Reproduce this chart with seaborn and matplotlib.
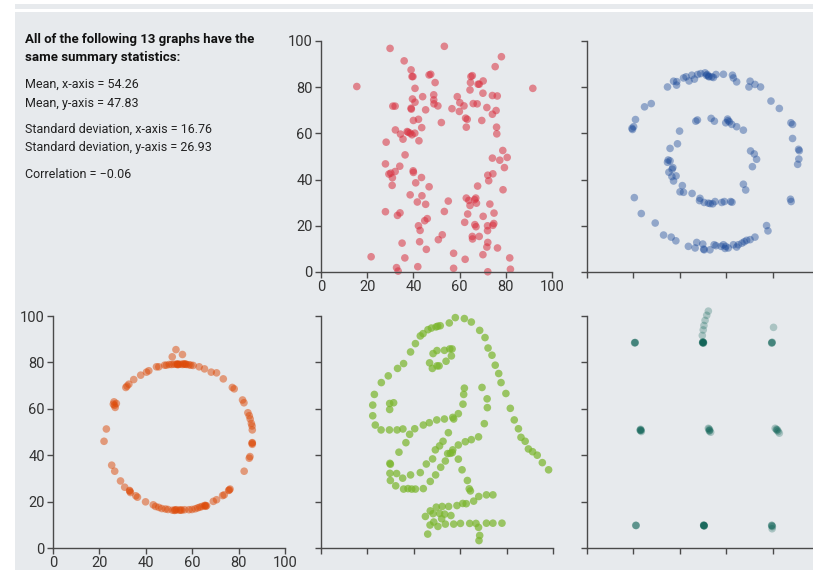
import numpy as np
import pandas as pd
import matplotlib.pyplot as plt
import seaborn as sns
from matplotlib.patches import Rectangle

# summary text
header = "All of the following 13 graphs have the\nsame summary statistics:"
stat_lines = ["Mean, x-axis = 54.26\nMean, y-axis = 47.83",
              "Standard deviation, x-axis = 16.76\nStandard deviation, y-axis = 26.93",
              "Correlation = \u22120.06"]

ticks = [0, 20, 40, 60, 80, 100]

# "away" - red, top middle
away_x = [15.5, 29.9, 53.4, 78.1, 91.7, 36.0, 39.0, 39.4, 39.8, 46.8, 47.5, 49.4, 40.7, 39.6, 40.7,
          44.0, 48.8, 48.8, 48.9, 50.6, 45.3, 39.0, 39.1, 31.1, 32.1, 40.0, 42.2, 43.6, 52.1, 32.2,
          34.4, 35.5, 37.3, 37.7, 38.6, 39.4, 40.6, 42.4, 28.2, 36.4, 27.9, 29.4, 30.2, 30.9, 32.1,
          34.1, 30.8, 39.9, 40.0, 43.5, 41.0, 46.8, 38.6, 43.7, 41.7, 45.3, 55.1, 53.4, 27.9, 34.2,
          33.1, 42.2, 42.9, 46.0, 44.9, 52.5, 50.8, 42.7, 35.1, 45.6, 36.3, 21.7, 32.7, 33.4, 41.9,
          57.4, 57.4, 62.4, 70.1, 72.2, 82.0, 81.7, 76.4, 71.8, 72.2, 68.5, 65.5, 65.6, 67.1, 66.6,
          72.1, 72.1, 74.4, 74.8, 62.2, 63.5, 70.2, 74.9, 73.1, 62.9, 64.0, 64.5, 66.5, 67.0, 67.3,
          67.8, 78.8, 72.2, 72.6, 74.4, 79.4, 77.4, 80.6, 74.2, 78.7, 76.1, 76.0, 75.8, 74.2, 71.8,
          74.2, 76.3, 69.6, 70.1, 70.2, 68.0, 68.5, 64.9, 65.5, 64.7, 64.5, 75.4, 59.0, 60.1, 61.9,
          59.9, 56.7, 65.9, 67.6, 62.6, 63.3, 62.9]
away_y = [80.3, 96.8, 97.7, 93.2, 79.5, 91.4, 87.5, 84.6, 84.6, 85.3, 85.6, 82.0, 79.5, 74.9, 73.5,
          75.9, 76.7, 74.5, 72.8, 71.9, 70.2, 70.9, 70.5, 71.8, 71.8, 65.6, 66.1, 62.5, 64.7, 61.5,
          59.7, 57.5, 60.8, 60.5, 60.1, 59.4, 60.1, 56.8, 56.2, 50.7, 46.8, 42.4, 42.8, 40.8, 43.5,
          45.8, 37.5, 43.8, 43.1, 40.9, 38.6, 36.9, 33.4, 33.0, 30.3, 29.3, 30.7, 26.2, 26.1, 25.6,
          24.5, 20.0, 18.0, 23.1, 22.2, 16.1, 14.0, 13.1, 12.5, 9.8, 6.1, 6.6, 1.9, 0.4, 2.3,
          8.1, 1.6, 5.5, 7.5, 0.1, 1.2, 6.1, 10.4, 10.8, 12.8, 15.4, 15.4, 14.3, 19.6, 20.5,
          17.9, 20.0, 20.2, 21.0, 21.5, 25.1, 24.1, 25.5, 29.4, 32.0, 31.0, 28.8, 31.3, 32.0, 29.8,
          37.2, 35.6, 41.9, 39.5, 42.5, 45.2, 48.4, 49.6, 49.3, 52.6, 59.8, 62.7, 69.9, 68.3, 71.2,
          76.4, 76.2, 65.6, 77.4, 82.7, 81.3, 81.3, 84.6, 85.0, 82.0, 78.8, 88.9, 75.9, 73.3, 71.9,
          69.5, 70.7, 72.9, 72.8, 66.6, 66.1, 62.7]

# "bullseye" - blue, top right
bull_x = [34.7, 37.3, 38.6, 38.7, 41.6, 42.7, 44.0, 45.2, 46.3, 47.7, 49.0, 50.9, 51.8, 52.6, 53.8,
          54.5, 55.6, 58.8, 62.7, 63.1, 64.5, 70.3, 69.8, 72.4, 74.8, 79.3, 82.9, 87.9, 88.6, 88.6,
          91.2, 91.5, 91.3, 90.8, 87.7, 88.0, 77.4, 78.0, 72.4, 70.3, 68.8, 67.8, 66.8, 65.2, 64.5,
          63.1, 60.9, 59.8, 58.8, 57.8, 55.6, 54.8, 53.0, 50.5, 49.9, 47.3, 46.6, 43.7, 38.3, 36.3,
          33.0, 29.4, 23.4, 20.4, 19.6, 20.1, 19.4, 20.9, 24.8, 27.7,
          46.9, 47.6, 53.5, 54.9, 59.8, 60.8, 61.4, 62.4, 64.5, 67.4, 39.9, 39.0, 35.8, 35.0, 34.7,
          35.8, 37.0, 36.7, 35.3, 36.6, 38.4, 37.3, 41.1, 40.1, 41.6, 45.3, 48.7, 48.5, 50.5, 52.3,
          54.2, 55.2, 58.1, 59.2, 61.9, 62.5, 67.4, 68.4, 71.3, 73.1, 72.1, 70.5,
          52.4, 51.5, 60.6, 50.3, 59.5, 53.1]
bull_y = [80.1, 82.6, 80.9, 82.4, 84.0, 84.5, 82.7, 85.2, 83.5, 85.5, 85.9, 86.2, 85.5, 84.5, 84.5,
          84.2, 85.5, 85.6, 85.2, 84.0, 82.3, 82.6, 80.1, 81.2, 80.1, 74.0, 70.8, 64.6, 63.9, 57.8,
          53.1, 52.5, 48.9, 46.6, 31.5, 30.5, 20.1, 17.8, 15.1, 14.0, 13.7, 13.1, 12.5, 11.8, 10.8,
          11.8, 10.4, 11.1, 11.8, 11.1, 11.4, 11.8, 9.6, 9.6, 12.1, 12.8, 10.4, 11.1, 13.5, 15.1,
          16.0, 21.2, 25.3, 32.2, 61.7, 62.9, 62.2, 66.0, 71.5, 72.9,
          65.3, 65.8, 66.5, 65.3, 64.6, 65.5, 65.0, 63.9, 62.9, 61.4, 61.0, 55.5, 53.5, 48.5, 47.5,
          48.1, 45.2, 44.5, 43.2, 41.3, 41.6, 39.4, 37.4, 34.7, 34.5, 34.0, 31.9, 30.9, 30.1, 29.8,
          29.5, 30.5, 30.1, 30.5, 30.5, 30.2, 38.0, 35.5, 45.6, 48.8, 51.1, 52.4,
          84.8, 85.1, 66.2, 9.9, 10.2, 29.6]

# "circle" - orange, bottom left
circ_x = [53.0, 51.4, 55.8, 48.1, 48.9, 50.1, 51.1, 52.1, 53.2, 54.0, 54.8, 55.8, 56.8, 57.6, 58.6,
          59.4, 60.4, 44.6, 45.6, 41.3, 40.3, 37.8, 34.8, 32.7, 31.9, 31.4, 63.0, 65.3, 68.2, 70.5,
          73.4, 77.3, 78.1, 81.7, 82.3, 84.0, 84.6, 85.0, 85.5, 85.8, 85.9, 85.9, 85.9, 84.9, 84.6,
          82.4, 26.3, 26.5, 26.8, 27.3, 23.0, 22.0, 25.3, 26.6, 29.1, 30.9, 33.1, 33.4, 35.7, 36.4,
          39.9, 43.2, 44.2, 45.6, 46.9, 48.5, 49.6, 51.5, 52.4, 53.2, 54.4, 55.5, 56.7, 58.6, 59.9,
          61.3, 62.4, 63.3, 64.2, 65.3, 66.2, 69.1, 70.5, 73.1, 73.8, 75.7, 76.3,
          53.6, 56.2, 52.7, 65.8, 26.0, 33.0, 76.0, 85.8, 55.0, 65.6, 53.8, 57.1]
circ_y = [85.5, 82.4, 83.4, 78.8, 78.8, 79.1, 79.1, 79.2, 79.2, 79.2, 79.2, 79.1, 79.2, 79.1, 79.0,
          78.8, 78.7, 78.1, 78.1, 76.4, 75.8, 74.5, 72.6, 70.6, 69.8, 69.2, 78.1, 77.2, 75.8, 75.5,
          72.9, 69.2, 68.6, 63.8, 62.6, 58.3, 57.0, 55.6, 53.7, 52.6, 50.9, 45.4, 44.7, 39.4, 38.7,
          33.1, 63.0, 61.5, 60.6, 62.3, 51.3, 46.0, 35.7, 33.1, 28.9, 26.2, 24.5, 23.9, 22.5, 21.9,
          19.9, 18.6, 17.9, 17.5, 17.0, 16.8, 16.6, 16.3, 16.2, 16.5, 16.3, 16.3, 16.5, 16.5, 16.6,
          16.9, 17.3, 17.6, 17.9, 18.2, 18.2, 20.1, 20.8, 22.6, 22.9, 24.8, 25.4,
          79.3, 79.4, 16.4, 18.0, 62.0, 24.8, 25.0, 45.2, 16.4, 18.4, 79.0, 79.3]

# "dino" - green, bottom middle
dino_x = [57.9, 61.8, 64.8, 68.4, 70.7, 72.0, 73.7, 75.1, 76.6, 77.6, 79.7, 81.6, 83.3, 85.1, 86.2,
          88.0, 89.4, 91.2, 93.2, 95.4, 98.1, 55.3, 51.4, 50.3, 49.6, 47.6, 46.1, 44.0, 42.8, 40.7,
          38.6, 35.6, 33.0, 29.0, 26.0, 23.0, 22.3, 22.3, 23.4, 25.9, 29.5, 32.8, 35.3, 38.2, 36.6,
          33.6, 29.7, 29.9, 29.7, 29.9, 32.2, 32.6, 35.2, 35.6, 37.5, 39.1, 40.7, 44.1, 38.6, 42.8,
          47.1, 49.4, 45.4, 48.1, 51.6, 53.6, 54.6, 55.7, 56.8, 59.2, 60.8, 63.1, 63.9, 64.4, 45.0,
          47.1, 48.3, 49.7, 51.1, 52.2, 53.3, 55.0, 56.0, 52.0, 58.6, 61.1, 62.6, 65.8, 68.0, 71.3,
          74.1, 47.0, 48.6, 50.4, 53.6, 57.2, 60.1, 64.1, 66.8, 67.9, 71.3, 74.1, 78.0, 46.0, 68.4,
          68.1, 69.4, 71.6, 71.7, 70.4, 67.9, 64.8, 62.2, 59.2, 56.6, 54.9, 52.6, 51.1, 49.3, 61.8,
          61.5, 61.2, 59.2, 57.2, 56.8, 53.2, 49.9, 46.7, 44.1, 40.4, 29.6, 31.3, 29.6, 46.8, 48.0,
          50.0, 50.9, 53.9, 56.2, 48.3, 50.0, 53.2, 55.5, 56.5]
dino_y = [99.3, 98.9, 97.4, 93.8, 90.7, 86.2, 83.1, 78.8, 75.2, 71.3, 66.6, 60.2, 55.2, 51.4, 47.7,
          46.0, 42.7, 41.5, 40.0, 36.8, 33.7, 97.0, 95.8, 95.6, 95.3, 94.8, 94.1, 92.4, 91.4, 88.1,
          84.5, 79.5, 77.4, 74.2, 71.3, 66.2, 61.6, 57.0, 53.0, 50.9, 50.9, 50.9, 51.3, 49.0, 45.4,
          41.3, 36.5, 36.1, 32.2, 29.1, 26.8, 32.1, 30.1, 25.4, 25.6, 25.4, 25.4, 25.6, 31.5, 32.5,
          28.7, 31.5, 36.2, 38.4, 34.8, 37.5, 40.7, 40.8, 42.3, 38.3, 33.7, 29.1, 25.5, 24.6, 13.6,
          16.0, 14.8, 17.6, 14.9, 17.9, 14.6, 17.9, 14.0, 12.6, 18.3, 19.2, 19.1, 20.2, 22.2, 22.9,
          22.9, 9.9, 11.2, 9.3, 10.3, 10.3, 10.6, 10.6, 10.6, 8.9, 10.7, 10.7, 10.7, 6.0, 5.4,
          3.2, 69.2, 64.3, 60.5, 53.6, 47.9, 46.7, 45.8, 44.4, 41.1, 49.7, 46.0, 44.0, 42.3, 68.9,
          66.2, 62.0, 57.9, 55.6, 56.3, 55.6, 55.2, 54.0, 53.0, 51.4, 62.3, 62.6, 59.7, 79.8, 77.4,
          78.5, 78.5, 80.5, 82.8, 83.8, 85.1, 85.2, 85.8, 85.8]

# "dots" - teal, bottom right
dots_x = [20.6, 20.5, 20.7, 50.0, 50.1, 49.9, 50.0, 50.2, 49.8, 50.0, 49.7, 50.1, 50.4, 50.9, 51.6,
          52.3, 79.7, 79.6, 79.8, 79.7, 80.4, 23.0, 23.2, 23.4, 23.1, 52.3, 52.9, 53.3, 52.6, 52.8,
          81.1, 82.1, 82.9, 81.6, 21.1, 21.0, 50.4, 50.3, 50.5, 50.4, 50.3, 50.5, 79.7, 79.8, 79.6,
          79.7, 50.2, 20.8, 23.3, 22.9, 52.7, 81.8, 21.2, 50.4, 79.9, 82.4]
dots_y = [88.5, 88.4, 88.6, 88.5, 88.3, 88.6, 88.7, 88.4, 88.5, 88.9, 91.6, 94.0, 95.9, 98.1, 100.3,
          102.1, 88.5, 88.3, 88.7, 88.5, 95.1, 50.9, 50.6, 50.2, 51.2, 51.6, 50.9, 49.9, 51.3, 50.4,
          51.6, 50.9, 49.5, 51.2, 9.7, 9.8, 9.7, 9.8, 9.6, 9.7, 9.9, 9.5, 9.7, 8.3, 9.8,
          9.5, 88.6, 88.5, 50.8, 50.7, 50.6, 50.8, 9.7, 9.6, 9.2, 50.2]

panels = [
    (away_x, away_y, "#d9303f", 0.55, True),
    (bull_x, bull_y, "#1c4a99", 0.42, False),
    (circ_x, circ_y, "#dd4a08", 0.5, True),
    (dino_x, dino_y, "#7bb62e", 0.72, False),
    (dots_x, dots_y, "#005a4c", 0.26, False),
]

sns.set_style("ticks")
plt.rcParams["font.family"] = ["Roboto", "DejaVu Sans"]

W, H = 813, 570
fig = plt.figure(figsize=(W / 100, H / 100), dpi=100)
fig.patch.set_facecolor("white")
bg = "#e7eaed"
fig.patches.append(Rectangle((15 / W, 0), 1, 1 - 12 / H, transform=fig.transFigure,
                             facecolor=bg, edgecolor="none", zorder=-10))
fig.patches.append(Rectangle((15 / W, 1 - 9 / H), 1, 5 / H, transform=fig.transFigure,
                             facecolor=bg, edgecolor="none", zorder=-10))

# axes boxes in pixels: left, top, width, height
boxes = [(321, 41, 231, 231), (587, 41, 232, 231),
         (53, 316, 232, 232), (321, 316, 232, 232), (587, 316, 232, 232)]

for (x, y, col, a, labels), (l, t, w, h) in zip(panels, boxes):
    ax = fig.add_axes([l / W, 1 - (t + h) / H, w / W, h / H])
    ax.set_facecolor("none")
    df = pd.DataFrame({"x": x, "y": y})
    sns.scatterplot(data=df, x="x", y="y", ax=ax, color=col, alpha=a, s=30,
                    edgecolor="none", clip_on=False)
    ax.set_xlim(0, 100)
    ax.set_ylim(0, 100)
    ax.set_xticks(ticks)
    ax.set_yticks(ticks)
    ax.set_xlabel("")
    ax.set_ylabel("")
    sns.despine(ax=ax)
    for s in ["left", "bottom"]:
        ax.spines[s].set_color("#4a4a4a")
        ax.spines[s].set_linewidth(1.0)
    ax.tick_params(length=4, width=1, color="#4a4a4a", labelsize=10.5,
                   labelcolor="#333333", pad=2)
    if not labels:
        ax.set_xticklabels([])
        ax.set_yticklabels([])

fig.text(25 / W, 1 - 33 / H, header, fontsize=9.5, fontweight="bold", color="#111111",
         va="top", ha="left", linespacing=1.5)
ys = [78, 123, 168]
for line, yy in zip(stat_lines, ys):
    fig.text(25 / W, 1 - yy / H, line, fontsize=9, color="#222222", va="top", ha="left",
             linespacing=1.55)

fig.savefig("out.png", dpi=100, facecolor="white")
